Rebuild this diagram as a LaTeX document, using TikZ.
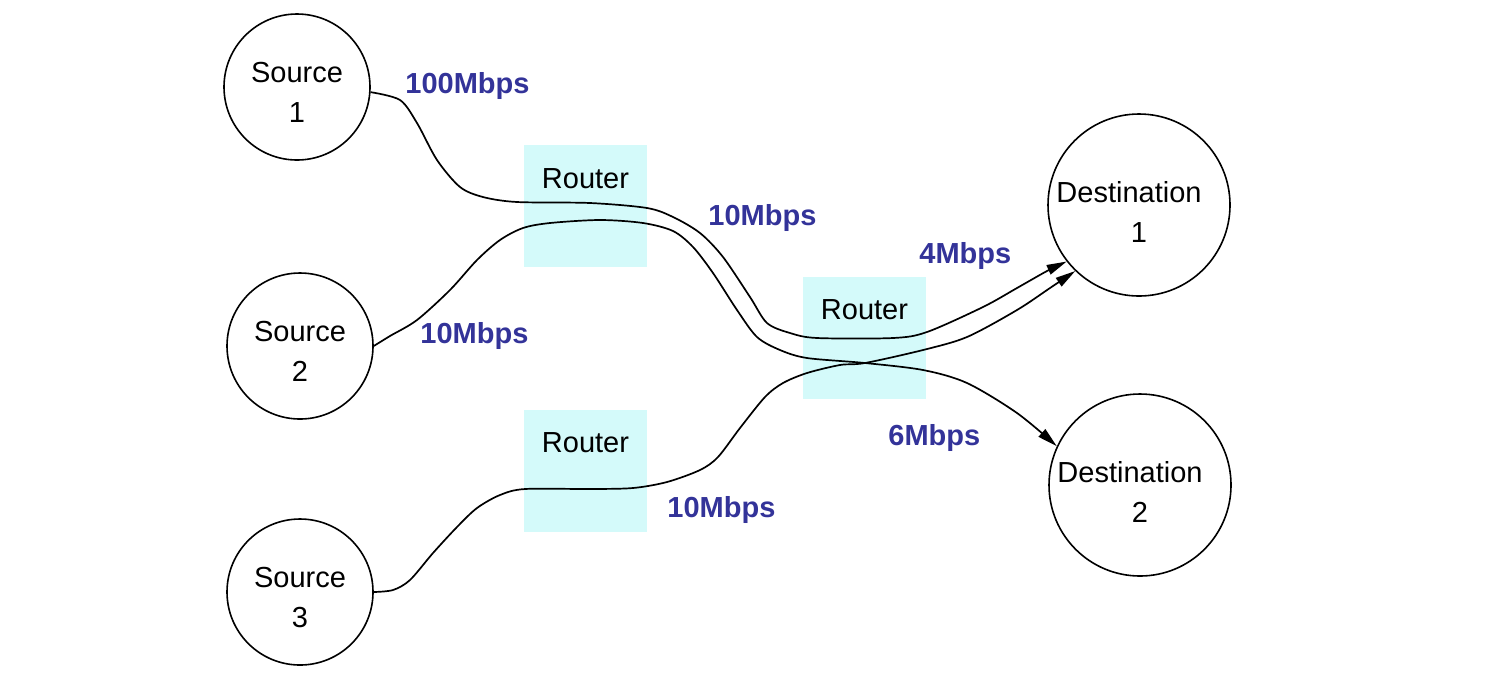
\documentclass[tikz,border=0pt]{standalone}
\usepackage{fontspec}
\setmainfont{Liberation Sans}
\usetikzlibrary{arrows.meta}

\definecolor{routercyan}{RGB}{212,250,250}
\definecolor{ratecolor}{RGB}{51,51,153}
\newcommand{\lift}[1]{\rule{0pt}{#1}}

\begin{document}
\begin{tikzpicture}[x=0.5pt,y=0.5pt,
    every node/.style={font=\fontsize{14.5}{20}\selectfont},
    host/.style={circle,draw,line width=0.8pt,align=center,inner sep=0pt},
    source/.style={host,minimum size=73pt},
    dest/.style={host,minimum size=91pt},
    router/.style={rectangle,fill=routercyan,inner sep=0pt,minimum width=61.5pt,
        text height=21.5pt,text depth=39.5pt},
    rate/.style={text=ratecolor,font=\fontsize{14.5}{20}\selectfont\bfseries,
        inner sep=0pt,anchor=base west},
    link/.style={line width=0.85pt,-{Triangle[length=10pt,width=5pt]}}]
    \useasboundingbox (0,0) rectangle (1486,-682);

    % hosts
    \node[source] (s1) at (297,-87) {\lift{15.6pt}Source\\1};
    \node[source] (s2) at (300,-346) {\lift{15.6pt}Source\\2};
    \node[source] (s3) at (300,-592) {\lift{15.6pt}Source\\3};
    \node[dest] (d1) at (1139,-205) {\lift{17.6pt}Destination\hspace*{10pt}\\1};
    \node[dest] (d2) at (1140,-485) {\lift{17.6pt}Destination\hspace*{10pt}\\2};

    % routers
    \node[router] (r1) at (585.5,-206) {Router};
    \node[router] (r2) at (864.5,-337.5) {Router};
    \node[router] (r3) at (585.5,-470.5) {Router};

    % flows
    \draw[link] plot[smooth] coordinates {(s1.-4) (400,-100) (417,-123) (437,-160)
        (460,-187) (483,-197) (517,-202) (590,-203) (647,-208) (673,-217) (700,-233)
        (723,-257) (750,-297) (767,-323) (790,-333) (817,-338) (893,-338) (927,-332)
        (983,-307) (1017,-288) (1047,-271) (d1.218)};
    \draw[link] plot[smooth] coordinates {(s2.east) (390,-336) (417,-320) (450,-290)
        (477,-260) (500,-240) (523,-228) (550,-223) (600,-220) (643,-223) (673,-231)
        (693,-247) (713,-273) (737,-310) (757,-337) (780,-350) (807,-358) (865,-363)
        (923,-370) (967,-383) (1017,-413) (d2.155)};
    \draw[link] plot[smooth] coordinates {(s3.east) (393,-590) (410,-580) (433,-553)
        (457,-527) (477,-508) (500,-495) (525,-489) (590,-489) (633,-488) (667,-482)
        (700,-470) (718,-457) (740,-428) (765,-397) (783,-383) (807,-373) (840,-365)
        (865,-363) (923,-350) (967,-337) (1017,-310) (1050,-288) (d1.226)};

    % rates
    \node[rate] (rate1) at (405,-93) {100Mbps};
    \node[rate] (rate2) at (420,-343) {10Mbps};
    \node[rate] (rate3) at (708,-225) {10Mbps};
    \node[rate] (rate4) at (667,-517) {10Mbps};
    \node[rate] (rate5) at (919,-263) {4Mbps};
    \node[rate] (rate6) at (888,-445) {6Mbps};
\end{tikzpicture}
\end{document}
